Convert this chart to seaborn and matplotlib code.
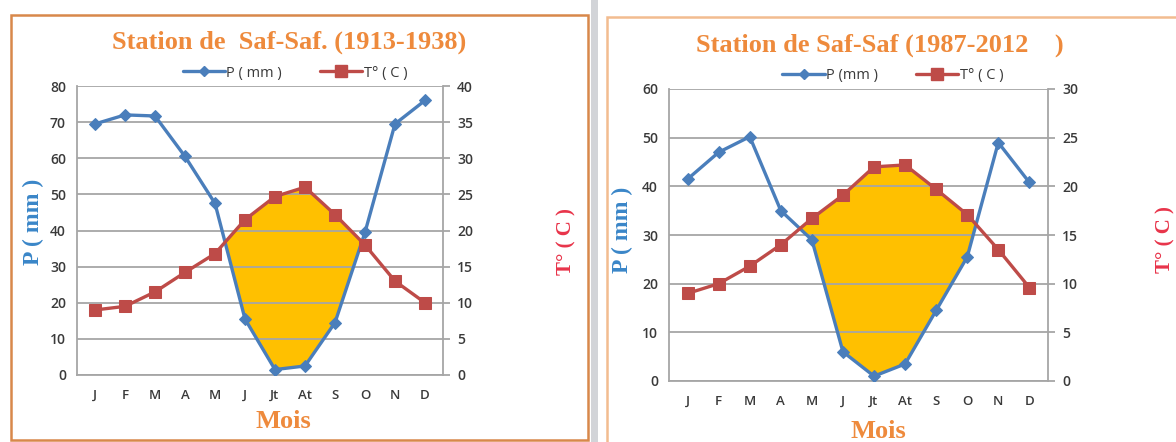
import numpy as np
import pandas as pd
import matplotlib
matplotlib.use("Agg")
import matplotlib.pyplot as plt
from matplotlib.patches import Rectangle
from matplotlib.lines import Line2D
import seaborn as sns

# Monthly climate data, Saf-Saf station
months = ["J", "F", "M", "A", "M", "J", "Jt", "At", "S", "O", "N", "D"]

precip_1913_1938 = [69.5, 72.0, 71.7, 60.5, 47.5, 15.5, 1.5, 2.5, 14.5, 39.5, 69.5, 76.0]
temp_1913_1938 = [9.0, 9.5, 11.5, 14.2, 16.8, 21.5, 24.7, 26.0, 22.2, 18.0, 13.0, 10.0]

precip_1987_2012 = [41.5, 47.0, 50.2, 35.0, 29.0, 6.0, 1.0, 3.5, 14.5, 25.5, 49.0, 40.8]
temp_1987_2012 = [9.0, 10.0, 11.8, 14.0, 16.7, 19.1, 22.0, 22.2, 19.7, 17.1, 13.5, 9.6]

p_ticks_left = [0, 10, 20, 30, 40, 50, 60, 70, 80]
t_ticks_left = [0, 5, 10, 15, 20, 25, 30, 35, 40]
p_ticks_right = [0, 10, 20, 30, 40, 50, 60]
t_ticks_right = [0, 5, 10, 15, 20, 25, 30]

sns.set_theme(style="white")
plt.rcParams["font.family"] = ["Open Sans", "DejaVu Sans"]

BLUE = "#4A7EBB"
RED = "#BE4B48"
GOLD = "#FFC000"
GRID = "#A6A6A6"
TICK = "#3A3A3A"
ORANGE = "#EE8A3C"
SERIF = ["Liberation Serif", "DejaVu Serif"]

fig = plt.figure(figsize=(11.76, 4.42), dpi=100)

# panel frames
fig.patches.append(Rectangle((11 / 1176, 2 / 442), 577 / 1176, 425 / 442,
                             transform=fig.transFigure, fill=False,
                             edgecolor="#D8884A", linewidth=1.8, zorder=0))
fig.patches.append(Rectangle((591 / 1176, 0), 7 / 1176, 1,
                             transform=fig.transFigure, facecolor="#D2D4D8",
                             edgecolor="none", zorder=0))
fig.patches.append(Rectangle((607 / 1176, -0.05), 600 / 1176, 1.05 - 17 / 442,
                             transform=fig.transFigure, fill=False,
                             edgecolor="#F2BC90", linewidth=1.8, zorder=0))


def draw_panel(rect, precip, temp, p_ticks, t_ticks, title, title_xy,
               legend_labels, legend_xy, mois_xy, plabel_xy, tlabel_xy):
    ax = fig.add_axes(rect)
    ax2 = ax.twinx()
    x = np.arange(len(months))
    df = pd.DataFrame({"x": x, "P": precip, "T": temp})
    scale = p_ticks[-1] / t_ticks[-1]

    # dry period: temperature curve (scaled) above precipitation
    t_scaled = df["T"].to_numpy() * scale
    p = df["P"].to_numpy()
    ax.fill_between(x, p, t_scaled, where=t_scaled >= p, interpolate=True,
                    color=GOLD, linewidth=0, zorder=1)

    sns.lineplot(data=df, x="x", y="P", ax=ax, color=BLUE, linewidth=2.4,
                 marker="D", markersize=6, markeredgecolor=BLUE, zorder=4)
    sns.lineplot(data=df, x="x", y="T", ax=ax2, color=RED, linewidth=2.4,
                 marker="s", markersize=9, markeredgecolor=RED, zorder=4)

    ax.set_xlim(-0.6, len(months) - 0.4)
    ax.set_ylim(p_ticks[0], p_ticks[-1])
    ax2.set_ylim(t_ticks[0], t_ticks[-1])
    ax.set_yticks(p_ticks)
    ax2.set_yticks(t_ticks)
    ax.set_xticks(x)
    ax.set_xticklabels(months)
    ax.set_xlabel("")
    ax.set_ylabel("")
    ax2.set_ylabel("")

    ax.grid(axis="y", color=GRID, linewidth=1.3, zorder=2)
    ax.set_axisbelow(False)
    for a in (ax, ax2):
        for s in a.spines.values():
            s.set_visible(False)
    ax.spines["left"].set_visible(True)
    ax.spines["bottom"].set_visible(True)
    ax2.spines["right"].set_visible(True)
    for s in (ax.spines["left"], ax.spines["bottom"], ax2.spines["right"]):
        s.set_color(GRID)
        s.set_linewidth(1.3)

    for lab in ax.get_yticklabels() + ax.get_xticklabels() + ax2.get_yticklabels():
        lab.set_fontweight("semibold")
    ax.tick_params(axis="y", length=0, pad=8, labelsize=10, labelcolor=TICK)
    ax.tick_params(axis="x", length=0, pad=10, labelsize=9.5, labelcolor=TICK)
    ax2.tick_params(axis="y", length=5, width=1.3, color=GRID, pad=5,
                    labelsize=10, labelcolor=TICK)

    fig.text(title_xy[0] / 1176, 1 - title_xy[1] / 442, title, ha="center",
             va="center", family=SERIF, fontweight="bold", fontsize=19,
             color=ORANGE)
    fig.text(mois_xy[0] / 1176, 1 - mois_xy[1] / 442, "Mois", ha="center",
             va="center", family=SERIF, fontweight="bold", fontsize=19,
             color=ORANGE)
    fig.text(plabel_xy[0] / 1176, 1 - plabel_xy[1] / 442, "P ( mm )",
             ha="center", va="center", rotation=90, family=SERIF,
             fontweight="bold", fontsize=17, color="#3A86C8")
    fig.text(tlabel_xy[0] / 1176, 1 - tlabel_xy[1] / 442, "T° ( C )",
             ha="center", va="center", rotation=90, family=SERIF,
             fontweight="bold", fontsize=15, color="#E8344A")

    handles = [
        Line2D([], [], color=BLUE, linewidth=2.4, marker="D", markersize=5),
        Line2D([], [], color=RED, linewidth=2.4, marker="s", markersize=8),
    ]
    fig.legend(handles, legend_labels, loc="center",
               bbox_to_anchor=(legend_xy[0] / 1176, 1 - legend_xy[1] / 442),
               ncol=2, frameon=False, fontsize=10.5, handlelength=2.9,
               handletextpad=0.1, columnspacing=2.6, labelcolor=TICK)
    return ax, ax2


draw_panel([77 / 1176, 1 - 375 / 442, 366 / 1176, 289 / 442],
           precip_1913_1938, temp_1913_1938, p_ticks_left, t_ticks_left,
           "Station de  Saf-Saf. (1913-1938)", (289, 42),
           ["P ( mm )", "T° ( C )"], (295, 73),
           (283, 421), (33, 222), (566, 242))

draw_panel([669 / 1176, 1 - 381 / 442, 379 / 1176, 292 / 442],
           precip_1987_2012, temp_1987_2012, p_ticks_right, t_ticks_right,
           "Station de Saf-Saf (1987-2012    )", (880, 45),
           ["P (mm )", "T° ( C )"], (893, 76),
           (878, 431), (622, 230), (1165, 240))

fig.savefig("out.png", dpi=100)
